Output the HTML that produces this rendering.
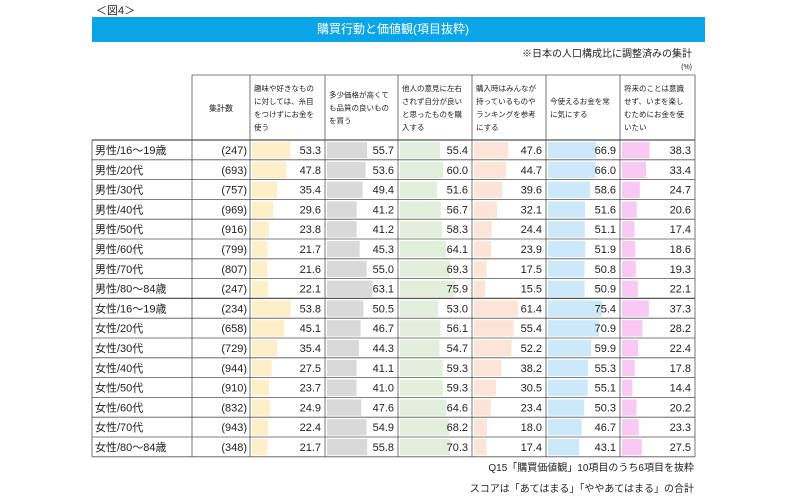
<!DOCTYPE html>
<html><head><meta charset="utf-8"><style>
body{margin:0;width:798px;height:499px;background:#fff;font-family:"Liberation Sans","Noto Sans CJK JP",sans-serif;position:relative;overflow:hidden;color:#222}
.a{position:absolute}
</style></head><body>
<div class="a" style="left:96px;top:2px;font-size:11px">＜図4＞</div>
<div class="a" style="left:92px;top:17px;width:613px;height:25px;background:#0aa5e6;color:#fff;font-size:12px;line-height:25px;text-align:right;box-sizing:border-box;padding-right:236px">購買行動と価値観(項目抜粋)</div>
<div class="a" style="right:106px;top:45px;font-size:10px">※日本の人口構成比に調整済みの集計</div>
<div class="a" style="right:106px;top:64px;font-size:7px">(%)</div>
<svg id="chart" class="a" style="left:0;top:0" width="798" height="499"></svg>
<div class="a" style="right:104px;top:459px;font-size:10px">Q15「購買価値観」10項目のうち6項目を抜粋</div>
<div class="a" style="right:104px;top:480px;font-size:10px">スコアは「あてはまる」「ややあてはまる」の合計</div>
<script>
const rows=["男性/16～19歳","男性/20代","男性/30代","男性/40代","男性/50代","男性/60代","男性/70代","男性/80～84歳","女性/16～19歳","女性/20代","女性/30代","女性/40代","女性/50代","女性/60代","女性/70代","女性/80～84歳"];
const counts=[247,693,757,969,916,799,807,247,234,658,729,944,910,832,943,348];
const headers=[["趣味や好きなもの","に対しては、糸目","をつけずにお金を","使う"],["多少価格が高くて","も品質の良いもの","を買う"],["他人の意見に左右","されず自分が良い","と思ったものを購","入する"],["購入時はみんなが","持っているものや","ランキングを参考","にする"],["今使えるお金を常","に気にする"],["将来のことは意識","せず、いまを楽し","むためにお金を使","いたい"]];
const s1=[53.3,47.8,35.4,29.6,23.8,21.7,21.6,22.1,53.8,45.1,35.4,27.5,23.7,24.9,22.4,21.7];
const s2=[55.7,53.6,49.4,41.2,41.2,45.3,55.0,63.1,50.5,46.7,44.3,41.1,41.0,47.6,54.9,55.8];
const s3=[55.4,60.0,51.6,56.7,58.3,64.1,69.3,75.9,53.0,56.1,54.7,59.3,59.3,64.6,68.2,70.3];
const s4=[47.6,44.7,39.6,32.1,24.4,23.9,17.5,15.5,61.4,55.4,52.2,38.2,30.5,23.4,18.0,17.4];
const s5=[66.9,66.0,58.6,51.6,51.1,51.9,50.8,50.9,75.4,70.9,59.9,55.3,55.1,50.3,46.7,43.1];
const s6=[38.3,33.4,24.7,20.6,17.4,18.6,19.3,22.1,37.3,28.2,22.4,17.8,14.4,20.2,23.3,27.5];
const series=[s1,s2,s3,s4,s5,s6];
const colors=["#fdf0c9","#d9d9d9","#e2efda","#fce4d6","#cce9fa","#f9c9f4"];
const svg=document.getElementById('chart');const NS="http://www.w3.org/2000/svg";
const L=92,colX=[92,192,250,325,398,472,546,620,695],T=75,HB=140,RH=19.8;
const B=HB+RH*rows.length;
function el(t,a){const e=document.createElementNS(NS,t);for(const k in a)e.setAttribute(k,a[k]);svg.appendChild(e);return e;}
function x(v,c){return colX[c]+2+v*0.72;}
function txt(s,xx,yy,anchor,size){const e=el('text',{x:xx,y:yy,'text-anchor':anchor,'font-size':size,fill:'#222'});e.textContent=s;return e;}
const h=txt("集計数",(colX[1]+colX[2])/2,111,'middle',8);


headers.forEach((lines,i)=>{const c=i+2;
 const y0=(T+HB)/2-(lines.length-1)*6.5+3;
 lines.forEach((ln,j)=>{const t=txt(ln,colX[c]+4,y0+j*13,'start',7.5);
 
 });});
rows.forEach((r,i)=>{const y=HB+i*RH;
 const lt=txt(r,L+3,y+14,'start',11);
 
 
 const ct=txt("("+counts[i]+")",colX[2]-3,y+14,'end',11);
 
 
 series.forEach((s,j)=>{const c=j+2;
  const b=el('rect',{x:colX[c]+2,y:y+2,width:x(s[i],c)-colX[c]-2,height:RH-3.5,fill:colors[j]});
  
  
  const v=txt(s[i].toFixed(1),colX[c+1]-4,y+14,'end',11);
  
  });
});
for(let i=0;i<=rows.length;i++){const y=HB+i*RH;el('line',{x1:L,x2:colX[8],y1:y,y2:y,stroke:'#555','stroke-width':i==0||i==8?1.2:0.8});}
el('line',{x1:colX[1],x2:colX[8],y1:T,y2:T,stroke:'#555','stroke-width':0.8});
colX.forEach((cx,k)=>{el('line',{x1:cx,x2:cx,y1:k==0?HB:T,y2:B,stroke:'#555','stroke-width':0.8});});
</script>
</body></html>
